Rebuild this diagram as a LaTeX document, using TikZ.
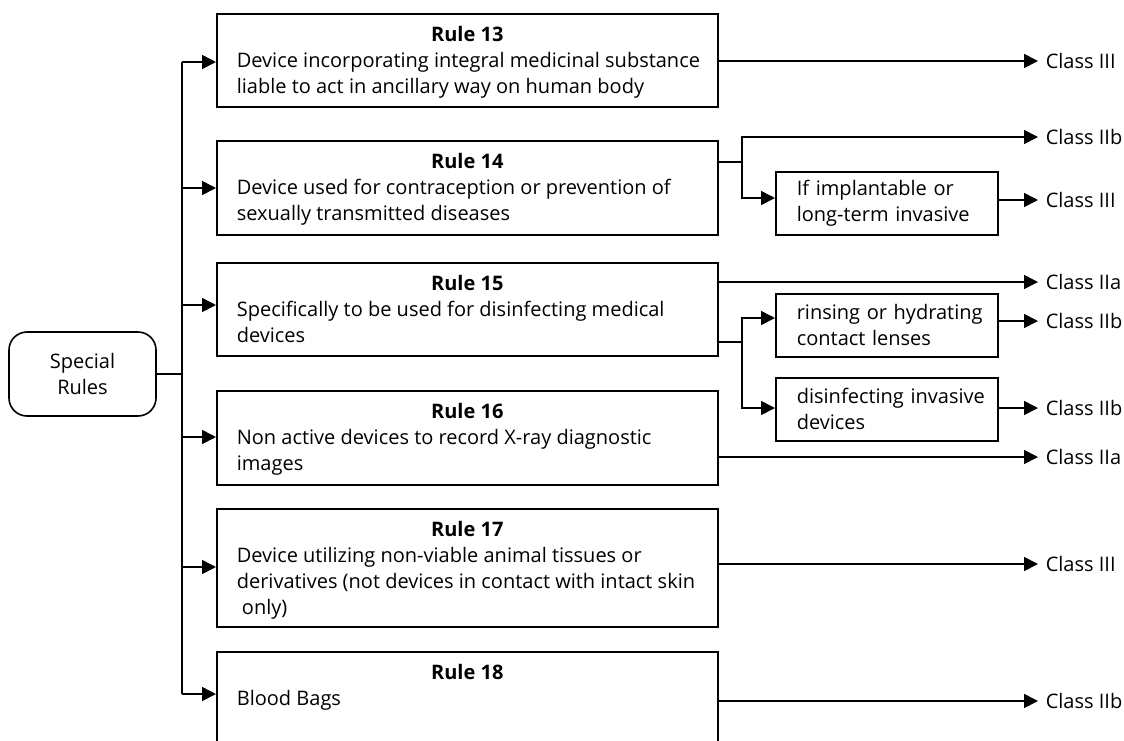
\documentclass[tikz,border=0pt]{standalone}
\usepackage{fontspec}
\setmainfont{Open Sans}
\usetikzlibrary{arrows.meta}
\begin{document}
\begin{tikzpicture}[x=1pt,y=-1pt,line width=1.6pt,
  every node/.style={font=\fontsize{20}{26}\selectfont},
  arr/.style={-{Triangle[length=14pt,width=14pt]}},
  startbox/.style={draw,rectangle,rounded corners=18pt,minimum width=147pt,minimum height=84pt,align=center,inner sep=0pt},
  rulebox/.style={draw,rectangle,anchor=north west,minimum width=501pt,inner sep=0pt},
  ruletitle/.style={anchor=base,inner sep=0pt,font=\fontsize{20}{26}\selectfont\bfseries},
  rulebody/.style={anchor=north west,align=left,inner sep=0pt},
  subbox/.style={draw,rectangle,anchor=north west,minimum width=222pt,minimum height=63pt,text width=180pt,align=left,inner xsep=21pt,inner ysep=0pt},
  classlbl/.style={anchor=west,inner xsep=7pt,inner ysep=0pt}]
\useasboundingbox (0,0) rectangle (1124,740);
\clip (0,0) rectangle (1124,740);

% root
\node[startbox] (sr) at (82.5,374) {Special\\Rules};

% rule boxes
\node[rulebox,minimum height=93pt] (r13) at (216,13) {};
\node[rulebox,minimum height=94pt] (r14) at (216,140) {};
\node[rulebox,minimum height=93pt] (r15) at (216,262) {};
\node[rulebox,minimum height=94pt] (r16) at (216,390) {};
\node[rulebox,minimum height=118pt] (r17) at (216,508) {};
\node[rulebox,minimum height=100pt] (r18) at (216,651) {};

% rule titles and descriptions
\node[ruletitle] (r13t) at ([yshift=-28pt]r13.north) {Rule 13};
\node[rulebody] (r13b) at ([xshift=20pt,yshift=-37pt]r13.north west)
  {\rule{0pt}{17pt}Device incorporating integral medicinal substance\\liable to act in ancillary way on human body};
\node[ruletitle] (r14t) at ([yshift=-28pt]r14.north) {Rule 14};
\node[rulebody] (r14b) at ([xshift=20pt,yshift=-37pt]r14.north west)
  {\rule{0pt}{17pt}Device used for contraception or prevention of\\sexually transmitted diseases};
\node[ruletitle] (r15t) at ([yshift=-28pt]r15.north) {Rule 15};
\node[rulebody] (r15b) at ([xshift=20pt,yshift=-37pt]r15.north west)
  {\rule{0pt}{17pt}Specifically to be used for disinfecting medical\\devices};
\node[ruletitle] (r16t) at ([yshift=-28pt]r16.north) {Rule 16};
\node[rulebody] (r16b) at ([xshift=20pt,yshift=-37pt]r16.north west)
  {\rule{0pt}{17pt}Non active devices to record X-ray diagnostic\\images};
\node[ruletitle] (r17t) at ([yshift=-28pt]r17.north) {Rule 17};
\node[rulebody] (r17b) at ([xshift=20pt,yshift=-37pt]r17.north west)
  {\rule{0pt}{17pt}Device utilizing non-viable animal tissues or\\derivatives (not devices in contact with intact skin\\\ only)};
\node[ruletitle] (r18t) at ([yshift=-28pt]r18.north) {Rule 18};
\node[rulebody] (r18b) at ([xshift=20pt,yshift=-37pt]r18.north west)
  {\rule{0pt}{17pt}Blood Bags};

% sub-condition boxes
\node[subbox] (s14) at (775,171) {\mbox{If implantable or}\\\mbox{long-term invasive}};
\node[subbox] (s15a) at (775,293) {\mbox{rinsing or hydrating}\\\mbox{contact lenses}};
\node[subbox] (s15b) at (775,377) {\mbox{disinfecting invasive}\\\mbox{devices}};

% class labels
\node[classlbl] (c13) at (1038,61) {Class III};
\node[classlbl] (c14a) at (1038,137) {Class IIb};
\node[classlbl] (c14b) at (1038,200) {Class III};
\node[classlbl] (c15a) at (1038,282) {Class IIa};
\node[classlbl] (c15b) at (1038,321) {Class IIb};
\node[classlbl] (c15c) at (1038,408) {Class IIb};
\node[classlbl] (c16) at (1038,457) {Class IIa};
\node[classlbl] (c17) at (1038,564) {Class III};
\node[classlbl] (c18) at (1038,701) {Class IIb};

% trunk from the root to every rule
\coordinate (jr) at (182,374);
\coordinate (t13) at (182,62);
\coordinate (t14) at (182,188);
\coordinate (t15) at (182,305);
\coordinate (t16) at (182,437);
\coordinate (t17) at (182,567);
\coordinate (t18) at (182,694);
\draw (sr.east) -- (jr);
\draw (t13) -- (t18);
\foreach \r in {13,14,15,16,17,18}
  \draw[arr] (t\r) -- (t\r -| r\r.west);

% rule outcomes
\draw[arr] (r13.east |- c13) -- (c13.west);
\coordinate (j14) at (742,162);
\draw (r14.east |- j14) -- (j14);
\draw[arr] (j14) |- (c14a.west);
\draw[arr] (j14) |- (s14.west |- 0,198);
\draw[arr] (s14.east |- c14b) -- (c14b.west);
\draw[arr] (r15.east |- c15a) -- (c15a.west);
\coordinate (j15) at (742,342);
\draw (r15.east |- j15) -- (j15);
\draw[arr] (j15) |- (s15a.west |- 0,318);
\draw[arr] (j15) |- (s15b.west |- 0,408);
\draw[arr] (s15a.east |- c15b) -- (c15b.west);
\draw[arr] (s15b.east |- c15c) -- (c15c.west);
\draw[arr] (r16.east |- c16) -- (c16.west);
\draw[arr] (r17.east |- c17) -- (c17.west);
\draw[arr] (r18.east |- c18) -- (c18.west);
\end{tikzpicture}
\end{document}
